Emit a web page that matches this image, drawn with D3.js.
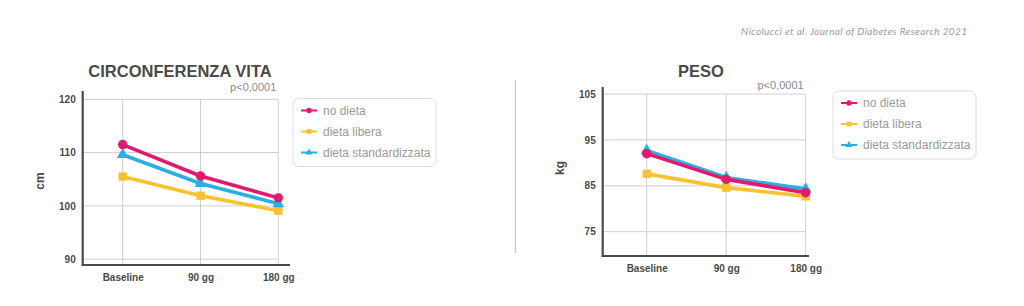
<!DOCTYPE html>
<html>
<head>
<meta charset="utf-8">
<script src="https://cdn.jsdelivr.net/npm/d3@7"></script>
<style>
  html, body { margin: 0; padding: 0; background: #fff; }
  svg { display: block; font-family: "Liberation Sans", Arial, sans-serif; }
</style>
</head>
<body>
<svg id="chart" width="1024" height="306"></svg>
<script>
// time points shared by both panels
const timepoints = ["Baseline", "90 gg", "180 gg"];
const seriesNames = ["no dieta", "dieta libera", "dieta standardizzata"];
const seriesColors = ["#e5186f", "#fcc12e", "#2aaee3"];
const seriesSymbols = [d3.symbolCircle, d3.symbolSquare, d3.symbolTriangle];

// circonferenza vita (cm)
const vitaNoDieta = [111.5, 105.6, 101.5];
const vitaLibera = [105.5, 101.9, 99.1];
const vitaStandard = [109.6, 104.2, 100.4];
const vitaTicks = [90, 100, 110, 120];

// peso (kg)
const pesoNoDieta = [92.0, 86.4, 83.5];
const pesoLibera = [87.6, 84.6, 82.7];
const pesoStandard = [92.7, 86.8, 84.3];
const pesoTicks = [75, 85, 95, 105];

const svg = d3.select("#chart");

function drawPanel(p) {
    const g = svg.append("g");

    const x = d3.scalePoint()
        .domain(timepoints)
        .range([p.x0, p.x1]);

    const y = d3.scaleLinear()
        .domain(p.domain)
        .range([p.yBottom, p.yTop]);

    const gridTop = y(d3.max(p.ticks));
    const gridBottom = y(p.domain[0]);

    // horizontal grid
    g.selectAll(".hgrid")
        .data(p.ticks)
        .enter()
        .append("line")
        .attr("x1", p.axisX)
        .attr("x2", p.x1)
        .attr("y1", d => y(d))
        .attr("y2", d => y(d))
        .attr("stroke", "#cfcfcf")
        .attr("stroke-width", 1);

    // vertical grid
    g.selectAll(".vgrid")
        .data(timepoints)
        .enter()
        .append("line")
        .attr("x1", d => x(d))
        .attr("x2", d => x(d))
        .attr("y1", gridTop)
        .attr("y2", gridBottom)
        .attr("stroke", "#cfcfcf")
        .attr("stroke-width", 1);

    // y axis
    const yAxis = d3.axisLeft(y)
        .tickValues(p.ticks)
        .tickSize(0)
        .tickPadding(7);
    const ya = g.append("g")
        .attr("transform", "translate(" + p.axisX + ",0)")
        .call(yAxis);
    ya.select(".domain").remove();
    ya.selectAll("text")
        .attr("font-size", 10)
        .attr("font-weight", "bold")
        .attr("fill", "#4a4a4a")
        .attr("font-family", "'Liberation Sans', Arial, sans-serif");

    // x axis
    const xAxis = d3.axisBottom(x)
        .tickSize(0)
        .tickPadding(9);
    const xa = g.append("g")
        .attr("transform", "translate(0," + gridBottom + ")")
        .call(xAxis);
    xa.select(".domain").remove();
    xa.selectAll("text")
        .attr("font-size", 10)
        .attr("font-weight", "bold")
        .attr("fill", "#4a4a4a")
        .attr("font-family", "'Liberation Sans', Arial, sans-serif");

    // axis lines
    g.append("line")
        .attr("x1", p.axisX).attr("x2", p.axisX)
        .attr("y1", p.axisTop).attr("y2", gridBottom + 1)
        .attr("stroke", "#4a4a4a").attr("stroke-width", 2.2);
    g.append("line")
        .attr("x1", p.axisX - 1).attr("x2", p.axisRight)
        .attr("y1", gridBottom).attr("y2", gridBottom)
        .attr("stroke", "#4a4a4a").attr("stroke-width", 2.2);

    // lines, drawn so that pink ends on top
    const line = d3.line()
        .x((d, i) => x(timepoints[i]))
        .y(d => y(d));

    const order = [1, 2, 0];
    order.forEach(function (s) {
        const vals = p.series[s];
        g.append("path")
            .datum(vals)
            .attr("d", line)
            .attr("fill", "none")
            .attr("stroke", seriesColors[s])
            .attr("stroke-width", 3.6)
            .attr("stroke-linejoin", "round");

        g.selectAll(".m" + s)
            .data(vals)
            .enter()
            .append("path")
            .attr("transform", (d, i) => "translate(" + x(timepoints[i]) + "," + y(d) + ")")
            .attr("d", d3.symbol().type(seriesSymbols[s]).size(s === 2 ? 60 : 70))
            .attr("fill", seriesColors[s]);
    });

    // title
    g.append("text")
        .attr("x", p.titleX)
        .attr("y", 77)
        .attr("text-anchor", "middle")
        .attr("font-size", 16.5)
        .attr("font-weight", "bold")
        .attr("fill", "#4a4a4a")
        .text(p.title);

    // p value
    g.append("text")
        .attr("x", p.x1 - 2)
        .attr("y", p.pY)
        .attr("text-anchor", "end")
        .attr("font-size", 11)
        .attr("fill", "#8a8a8a")
        .text("p<0,0001");

    // unit label
    g.append("text")
        .attr("transform", "translate(" + p.unitX + "," + p.unitY + ") rotate(-90)")
        .attr("text-anchor", "middle")
        .attr("font-size", 12)
        .attr("font-weight", "bold")
        .attr("fill", "#4a4a4a")
        .text(p.unit);

    // legend
    const lg = g.append("g")
        .attr("transform", "translate(" + p.legX + "," + p.legY + ")");
    lg.append("rect")
        .attr("width", 143)
        .attr("height", 68)
        .attr("rx", 6)
        .attr("fill", "#fff")
        .attr("stroke", "#dcdcdc")
        .attr("stroke-width", 1);
    seriesNames.forEach(function (name, i) {
        const cy = 12 + i * 21;
        lg.append("line")
            .attr("x1", 8).attr("x2", 24)
            .attr("y1", cy).attr("y2", cy)
            .attr("stroke", seriesColors[i])
            .attr("stroke-width", 2);
        lg.append("path")
            .attr("transform", "translate(16," + cy + ")")
            .attr("d", d3.symbol().type(seriesSymbols[i]).size(22))
            .attr("fill", seriesColors[i]);
        lg.append("text")
            .attr("x", 30)
            .attr("y", cy + 4)
            .attr("font-size", 12)
            .attr("fill", "#9a9a9a")
            .text(name);
    });
}

drawPanel({
    title: "CIRCONFERENZA VITA",
    titleX: 180,
    unit: "cm",
    unitX: 44,
    unitY: 181,
    series: [vitaNoDieta, vitaLibera, vitaStandard],
    ticks: vitaTicks,
    domain: [88.9, 120],
    yTop: 99.3,
    yBottom: 265,
    x0: 122.7,
    x1: 278.3,
    axisX: 82.7,
    axisTop: 91,
    axisRight: 290,
    pY: 91,
    legX: 293,
    legY: 98.5
});

drawPanel({
    title: "PESO",
    titleX: 701,
    unit: "kg",
    unitX: 564,
    unitY: 168,
    series: [pesoNoDieta, pesoLibera, pesoStandard],
    ticks: pesoTicks,
    domain: [69.7, 105],
    yTop: 94,
    yBottom: 256,
    x0: 646.7,
    x1: 805.7,
    axisX: 602.7,
    axisTop: 87,
    axisRight: 809,
    pY: 89,
    legX: 833,
    legY: 91
});

// divider
svg.append("line")
    .attr("x1", 515.5).attr("x2", 515.5)
    .attr("y1", 80).attr("y2", 253)
    .attr("stroke", "#c8c8c8")
    .attr("stroke-width", 1.2);

// source
svg.append("text")
    .attr("x", 741)
    .attr("y", 35)
    .attr("textLength", 226)
    .attr("lengthAdjust", "spacing")
    .attr("font-family", "Lato, 'Open Sans', sans-serif")
    .attr("font-style", "italic")
    .attr("font-size", 10)
    .attr("fill", "#9a9a9a")
    .text("Nicolucci et al. Journal of Diabetes Research 2021");
</script>
</body>
</html>
